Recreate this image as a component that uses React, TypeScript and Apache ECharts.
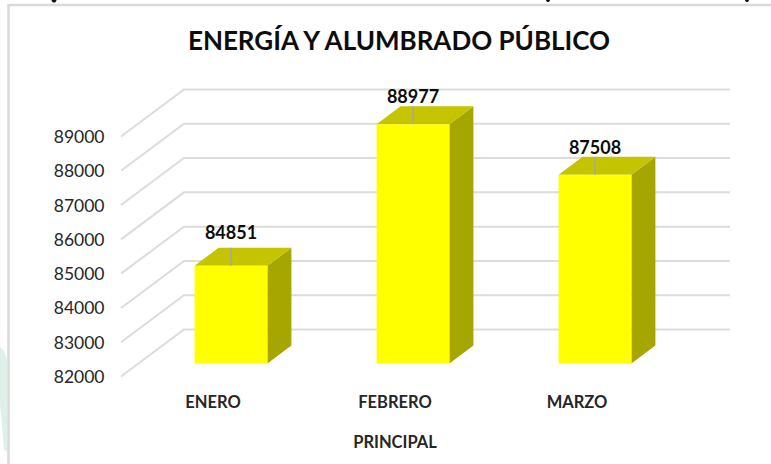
import React, { useEffect, useRef } from "react";
import * as echarts from "echarts";

const titleText = "ENERGÍA Y ALUMBRADO PÚBLICO";
const axisTitle = "PRINCIPAL";
const months = ["ENERO", "FEBRERO", "MARZO"];
const amounts = [84851, 88977, 87508];
const gridTicks = [82000, 83000, 84000, 85000, 86000, 87000, 88000, 89000];
const labelLift = [16, 10, 10];

const FONT = "Lato, Carlito, 'Open Sans', sans-serif";
const WALL_DX = 62;
const WALL_DY = -47;
const BAR_DX = 18;
const BAR_DY = -13;
const SIDE_DX = 24;
const SIDE_DY = -18;

export default function App() {
  const ref = useRef<HTMLDivElement>(null);
  useEffect(() => {
    document.body.style.margin = "0";
    const chart = echarts.init(ref.current!, null, { renderer: "svg" });
    chart.setOption({
      animation: false,
      backgroundColor: "#ffffff",
      title: {
        text: titleText,
        left: 394,
        top: 22,
        textAlign: "center",
        textStyle: { fontFamily: FONT, fontWeight: "bold", fontSize: 26, color: "#0d0d0d" },
      },
      graphic: [
        {
          type: "polygon",
          z: -1,
          shape: { points: [[0, 347], [4, 351], [7, 360], [7, 452], [4, 450], [2, 425], [0, 405]] },
          style: { fill: "#dff0e8" },
        },
        {
          type: "polyline",
          z: 0,
          shape: { points: [[8.5, 464], [8.5, 5], [771, 5]] },
          style: { stroke: "#d9d9d9", lineWidth: 2.5, fill: "none" },
        },
        { type: "circle", shape: { cx: 54, cy: 0, r: 2.5 }, style: { fill: "#111111" } },
        { type: "circle", shape: { cx: 548, cy: 0, r: 2 }, style: { fill: "#111111" } },
        { type: "circle", shape: { cx: 747, cy: 0, r: 2 }, style: { fill: "#111111" } },
      ],
      grid: { left: 122, top: 136.5, width: 546, height: 240 },
      xAxis: {
        type: "category",
        data: months,
        name: axisTitle,
        nameLocation: "middle",
        nameGap: 57,
        nameTextStyle: { fontFamily: FONT, fontWeight: "bold", fontSize: 16.5, color: "#262626" },
        axisLine: { show: false },
        axisTick: { show: false },
        axisLabel: {
          margin: 17,
          fontFamily: FONT,
          fontWeight: "bold",
          fontSize: 16.5,
          color: "#262626",
        },
      },
      yAxis: {
        type: "value",
        min: 82000,
        max: 89000,
        interval: 1000,
        axisLine: { show: false },
        axisTick: { show: false },
        splitLine: { show: false },
        axisLabel: {
          margin: 17.5,
          padding: [2, 0, 0, 0],
          fontFamily: FONT,
          fontSize: 17.5,
          color: "#262626",
          formatter: (v: number) => String(v),
        },
      },
      series: [
        {
          type: "custom",
          z: 1,
          silent: true,
          clip: false,
          data: gridTicks.map((t) => [0, t]),
          encode: { x: 0, y: 1 },
          renderItem: (params: any, api: any) => {
            const y = api.coord([0, api.value(1)])[1];
            const left = params.coordSys.x - 1;
            const right = params.coordSys.x + params.coordSys.width;
            return {
              type: "polyline",
              shape: {
                points: [
                  [left, y],
                  [left + WALL_DX + 1, y + WALL_DY],
                  [right + WALL_DX, y + WALL_DY],
                ],
              },
              style: { stroke: "#dcdcdc", lineWidth: 2, fill: "none" },
            };
          },
        },
        {
          type: "custom",
          z: 2,
          silent: true,
          clip: false,
          data: amounts.map((v, i) => [i, v]),
          encode: { x: 0, y: 1 },
          renderItem: (params: any, api: any) => {
            const idx = api.value(0);
            const value = api.value(1);
            const top = api.coord([idx, value]);
            const base = api.coord([idx, 82000]);
            const w = api.size([1, 0])[0] * 0.4;
            const x0 = top[0] + BAR_DX - w / 2;
            const x1 = x0 + w;
            const yt = top[1] + BAR_DY;
            const yb = base[1] + BAR_DY;
            const cx = (x0 + x1) / 2;
            return {
              type: "group",
              children: [
                {
                  type: "polygon",
                  shape: { points: [[x1, yb], [x1 + SIDE_DX, yb + SIDE_DY], [x1 + SIDE_DX, yt + SIDE_DY], [x1, yt]] },
                  style: { fill: "#a6a600" },
                },
                {
                  type: "polygon",
                  shape: { points: [[x0, yt], [x1, yt], [x1 + SIDE_DX, yt + SIDE_DY], [x0 + SIDE_DX, yt + SIDE_DY]] },
                  style: { fill: "#c4c400" },
                },
                {
                  type: "rect",
                  shape: { x: x0, y: yt, width: w, height: yb - yt },
                  style: { fill: "#ffff00" },
                },
                {
                  type: "line",
                  shape: { x1: cx, y1: yt, x2: cx, y2: yt + SIDE_DY },
                  style: { stroke: "#a8a8a8", lineWidth: 1.5 },
                },
                {
                  type: "text",
                  style: {
                    x: cx,
                    y: yt + SIDE_DY - labelLift[idx],
                    text: String(value),
                    align: "center",
                    verticalAlign: "middle",
                    fontFamily: FONT,
                    fontWeight: "bold",
                    fontSize: 18,
                    fill: "#0d0d0d",
                  },
                },
              ],
            };
          },
        },
      ],
    });
    return () => chart.dispose();
  }, []);
  return <div ref={ref} style={{ width: 771, height: 464 }} />;
}
